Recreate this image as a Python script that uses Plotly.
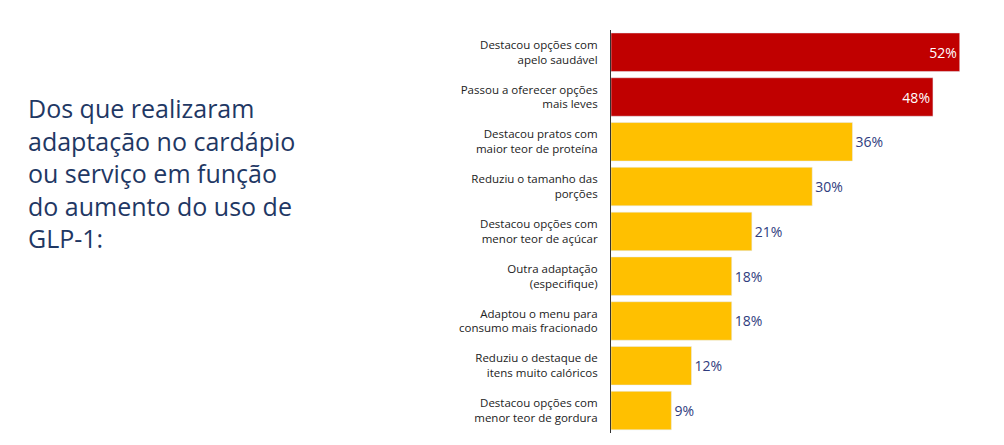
import plotly.graph_objects as go

categorias = [
    "Destacou opções com<br>apelo saudável",
    "Passou a oferecer opções<br>mais leves",
    "Destacou pratos com<br>maior teor de proteína",
    "Reduziu o tamanho das<br>porções",
    "Destacou opções com<br>menor teor de açúcar",
    "Outra adaptação<br>(especifique)",
    "Adaptou o menu para<br>consumo mais fracionado",
    "Reduziu o destaque de<br>itens muito calóricos",
    "Destacou opções com<br>menor teor de gordura",
]
valores = [52, 48, 36, 30, 21, 18, 18, 12, 9]
destaque = [True, True, False, False, False, False, False, False, False]

cores = ["#C00000" if d else "#FFC000" for d in destaque]
posicoes = ["inside" if d else "outside" for d in destaque]
cores_texto = ["white" if d else "#2F3C7E" for d in destaque]

fig = go.Figure(go.Bar(
    y=categorias,
    x=valores,
    orientation="h",
    marker=dict(color=cores),
    text=[f"{v}%" for v in valores],
    textposition=posicoes,
    insidetextanchor="end",
    textfont=dict(size=14, color=cores_texto),
    cliponaxis=False,
))

fig.update_layout(
    width=1004, height=445,
    margin=dict(l=0, r=0, t=0, b=0),
    paper_bgcolor="white", plot_bgcolor="white",
    font=dict(family="Open Sans, Liberation Sans, sans-serif", color="#222222"),
    bargap=0.14,
    showlegend=False,
    xaxis=dict(domain=[0.6006, 0.948], range=[0, 52], visible=False),
    yaxis=dict(
        domain=[0.045, 0.951], autorange="reversed",
        showline=True, linecolor="#333333", linewidth=1,
        ticks="", tickfont=dict(size=11.5, color="#222222"),
        ticklabelstandoff=10,
    ),
    annotations=[dict(
        text="Dos que realizaram<br>adaptação no cardápio<br>ou serviço em função<br>do aumento do uso de<br>GLP-1:",
        xref="paper", yref="paper", x=0.018, y=0.63,
        xanchor="left", yanchor="middle", align="left", showarrow=False,
        font=dict(size=25, color="#1F3864"),
    )],
)

fig.write_html("out.html")
